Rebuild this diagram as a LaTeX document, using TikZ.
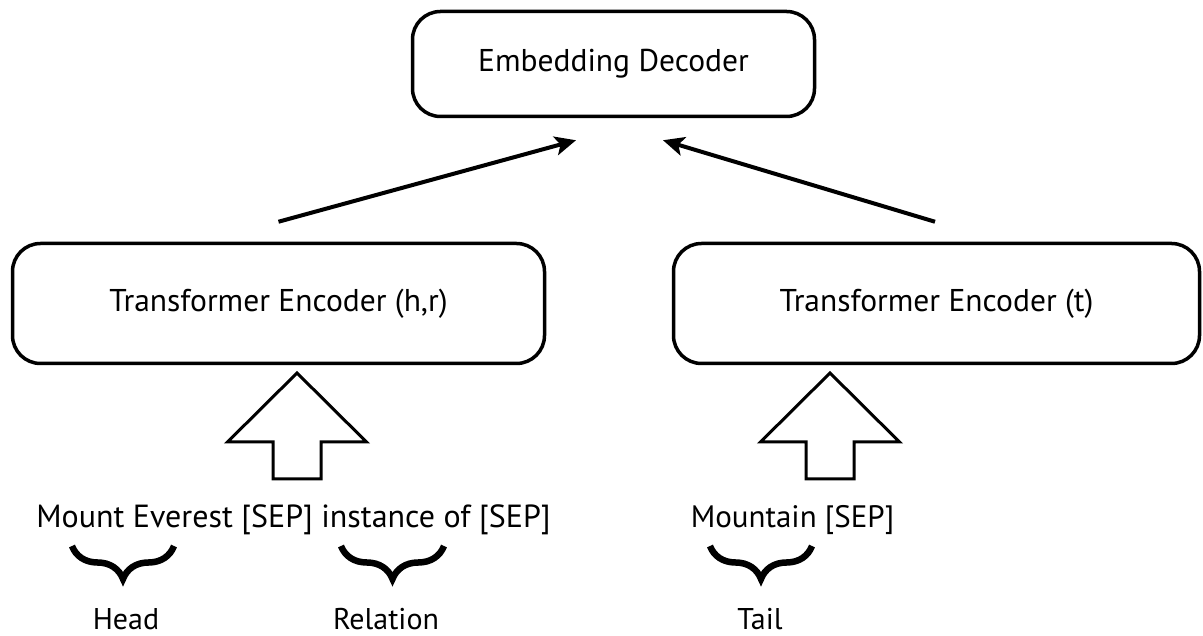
\documentclass[tikz,border=0pt]{standalone}
\usepackage{fontspec}
\setmainfont{PT Sans}
\usetikzlibrary{calc,positioning,arrows.meta,decorations.pathreplacing}
\tikzset{
	encbox/.style={draw,line width=3.5pt,rounded corners=28pt,inner sep=0pt,font=\fontsize{31.5}{36}\selectfont},
	flow/.style={line width=4pt,-{Stealth[length=21pt,width=19pt,inset=5pt]}},
	fatarrow/.style={draw,line width=3pt,fill=white,line join=miter},
	brc/.style={decorate,decoration={brace,mirror,amplitude=33pt},line width=6.5pt},
	lbl/.style={anchor=base,inner sep=1pt},
}

\begin{document}
\begin{tikzpicture}[scale=1,black,x=1pt,y=1pt,every node/.style={font=\fontsize{30}{36}\selectfont}]
	\useasboundingbox (0, 0) rectangle (1203, 636);
	% Boxes
	\node[encbox, minimum width=402pt, minimum height=105pt] (dec) at (613.5, 572) {Embedding Decoder};
	\node[encbox, minimum width=532pt, minimum height=120pt] (enchr) at (278.5, 332.5) {Transformer Encoder (h,r)};
	\node[encbox, minimum width=526pt, minimum height=120pt] (enct) at (936.5, 332.5) {Transformer Encoder (t)};

	% Points
	\coordinate (hrout) at ($(enchr.north) + (0, 20)$);
	\coordinate (tout) at ($(enct.north) + (-1.5, 20)$);
	\coordinate (decl) at ($(dec.south) + (-37.5, -22)$);
	\coordinate (decr) at ($(dec.south) + (49.5, -22)$);
	\coordinate (hrin) at (297, 263);
	\coordinate (tin) at (830, 263);

	% Arrows to the decoder
	\draw[flow] (hrout) -- (decl);
	\draw[flow] (tout) -- (decr);

	% Input arrows
	\draw[fatarrow] (hrin) -- ++(69.5,-69) -- ++(-45.5,0) -- ++(0,-37)
		-- ++(-48,0) -- ++(0,37) -- ++(-45.5,0) -- cycle;
	\draw[fatarrow] (tin) -- ++(69.5,-69) -- ++(-45.5,0) -- ++(0,-37)
		-- ++(-48,0) -- ++(0,37) -- ++(-45.5,0) -- cycle;

	% Inputs
	\node[lbl, font=\fontsize{32}{36}\selectfont] (inhr) at (293.5, 108) {Mount Everest [SEP] instance of [SEP]};
	\node[lbl, font=\fontsize{31}{36}\selectfont] (int) at (792.5, 108) {Mountain [SEP]};

	% Braces
	\draw[brc] (72, 90) -- (174, 90);
	\draw[brc] (341, 90) -- (444, 90);
	\draw[brc] (710, 90) -- (812, 90);

	% Labels
	\node[lbl] (head) at (126, 6) {Head};
	\node[lbl] (rel) at (386, 6) {Relation};
	\node[lbl] (tail) at (760, 6) {Tail};
\end{tikzpicture}
\end{document}
